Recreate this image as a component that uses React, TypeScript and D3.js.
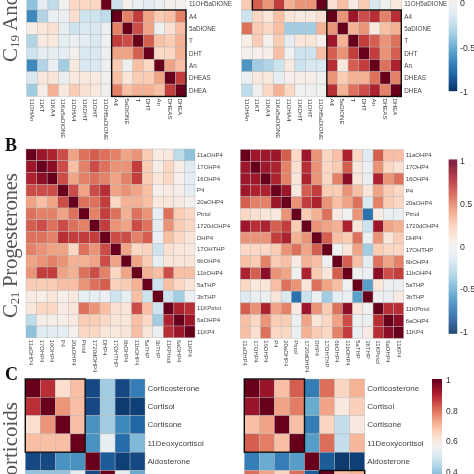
import React from "react";
import * as d3 from "d3";

const labelsA = ["11OHAn","11KT","11KA4","11Ka5aDIONE","11OHA4","11KDHT","11OHT","11OH5aDIONE","A4","5aDIONE","T","DHT","An","DHEAS","DHEA"];
const rowsA = labelsA.slice(7);
const labelsB = ["11aOHP4","17OHP4","16OHP4","P4","20aOHP4","Ptriol","1720dOHP4","DHP4","17OHTHP","6bOHP4","11bOHP4","5aTHP","3bTHP","11KPtriol","6aOHP4","11KP4"];
const labelsC = ["Corticosterone","Cortisol","Cortisone","11Deoxycortisol","Aldosterone",""];

const valuesAL = [
[-.4,-.1,-.25,-.02,.2,.2,.2,1,-.2,.02,-.05,-.1,-.05,.02,.02],
[-.65,-.3,-.05,-.05,.15,-.2,-.2,-.25,1,.5,.7,.4,.25,.3,.5],
[.05,.12,.15,-.08,-.2,-.15,-.15,-.05,.5,1,.65,.4,-.03,.15,.3],
[-.3,.08,.1,-.1,-.05,-.1,-.15,-.03,.7,.65,1,.6,.3,.25,.35],
[-.2,-.1,-.08,-.1,.02,-.15,-.15,-.03,.4,.4,.6,1,.2,.2,.35],
[-.65,-.3,-.05,-.35,.1,-.15,-.15,-.03,.25,-.03,.3,.2,1,.4,.3],
[-.15,.1,.12,-.05,.1,.1,.08,-.02,.3,.12,.25,.25,.4,1,.7],
[-.35,.05,.35,.1,.25,.15,.1,-.03,.5,.3,.35,.35,.3,.7,1],
];
const valuesAR = [
[.25,.6,.45,.7,.35,.45,.45,1,.15,.3,.08,.25,-.15,-.02,.1],
[-.2,.2,.12,.3,.12,.08,.1,.15,1,.45,.85,.65,.75,.5,.75],
[.55,.25,.2,.3,-.35,-.35,-.35,.35,.45,1,.35,.45,.1,.3,.35],
[.05,.25,.02,.25,-.1,.12,.12,.03,.85,.35,1,.7,.6,.45,.55],
[.02,.03,.05,.3,-.02,-.2,-.2,.3,.6,.45,.7,1,.7,.45,.6],
[-.6,-.35,-.3,-.2,.1,-.2,-.15,-.15,.75,.1,.6,.7,1,.55,.8],
[-.05,.1,.1,-.08,.03,.05,.05,-.03,.45,.25,.35,.35,.55,1,.5],
[-.25,-.03,.2,.35,.2,-.02,-.03,-.02,.75,.35,.55,.65,.8,.5,1],
];
const valuesBL = [
[1,.85,.8,.65,.4,.55,.6,.55,.5,.4,.45,.25,.08,.1,-.25,-.4],
[.85,1,.9,.65,.3,.5,.65,.55,.45,.45,.7,.25,.05,.2,.05,-.12],
[.8,.9,1,.65,.4,.5,.55,.5,.4,.5,.7,.25,.12,.2,.03,-.1],
[.65,.65,.65,1,.65,.4,.65,.75,.4,.45,.4,.3,.03,.08,.05,-.1],
[.4,.3,.4,.65,1,.55,.55,.7,.2,.35,.35,.3,.1,.12,.08,.02],
[.55,.5,.5,.4,.55,1,.5,.7,.55,.35,.55,.45,-.08,.55,.25,.2],
[.6,.65,.55,.65,.55,.5,1,.7,.45,.4,.65,.55,-.08,.45,.25,.2],
[.55,.55,.5,.75,.7,.7,.7,1,.65,.65,.5,.6,-.05,.3,.2,.12],
[.5,.45,.4,.4,.2,.55,.45,.65,1,.4,.2,.22,-.2,.15,.12,.1],
[.4,.45,.5,.45,.35,.35,.4,.65,.4,1,.4,.25,-.08,.12,.12,.12],
[.45,.7,.7,.4,.35,.55,.65,.5,.2,.4,1,.35,.3,.65,.3,.3],
[.25,.25,.25,.3,.3,.45,.55,.6,.22,.25,.35,1,-.2,.3,.2,.12],
[.08,.05,.12,.03,.1,-.08,-.08,-.05,-.2,-.08,.3,-.2,1,-.2,-.35,-.05],
[.1,.2,.2,.08,.12,.55,.45,.3,.15,.12,.65,.3,-.2,1,.8,.75],
[-.25,.05,.03,.05,.08,.25,.25,.2,.12,.12,.3,.2,-.35,.8,1,.85],
[-.4,-.12,-.1,-.1,.02,.2,.2,.12,.1,.12,.3,.12,-.05,.75,.85,1],
];
const valuesBR = [
[1,.85,.85,.85,.6,.2,.85,.45,.2,.3,.8,.2,-.12,.6,.3,.3],
[.85,1,.85,.8,.5,.15,.75,.45,.2,.25,.6,.1,-.05,.45,.2,.15],
[.85,.85,1,.8,.5,.12,.8,.45,.2,.5,.9,.12,-.05,.8,.45,.55],
[.85,.8,.8,1,.85,.1,.6,.7,.25,.25,.45,.3,.12,.4,.25,.2],
[.6,.5,.5,.85,1,.45,.7,.8,.45,.3,.4,.55,-.15,.5,.25,.2],
[.2,.15,.12,.1,.45,1,.25,.35,.55,.08,-.02,.45,-.75,.08,-.05,-.05],
[.85,.75,.8,.6,.7,.25,1,.45,.4,.35,.8,.12,-.2,.85,.4,.35],
[.45,.45,.45,.7,.8,.35,.45,1,.6,.3,.25,.55,-.05,.45,.12,.25],
[.2,.2,.2,.25,.45,.55,.4,.6,1,-.03,.12,.4,-.35,.25,.2,.2],
[.3,.25,.5,.25,.3,.08,.35,.3,-.03,1,.6,.3,-.1,.55,.4,.5],
[.8,.6,.9,.45,.4,-.02,.8,.25,.12,.6,1,-.02,-.05,.9,.65,.7],
[.2,.1,.12,.3,.55,.45,.12,.55,.4,.3,-.02,1,-.55,.12,-.03,-.05],
[-.12,-.05,-.05,.12,-.15,-.75,-.2,-.05,-.35,-.1,-.05,-.55,1,-.03,-.05,.08],
[.6,.45,.8,.4,.5,.08,.85,.45,.25,.55,.9,.12,-.03,1,.75,.75],
[.3,.2,.45,.25,.25,-.05,.4,.12,.2,.4,.65,-.03,-.05,.75,1,.9],
[.3,.15,.55,.2,.2,-.05,.35,.25,.2,.5,.7,-.05,.08,.75,.9,1],
];
const valuesCL = [
[1,.89,.64,.7,.18,.42,.18,.27],
[.89,1,.76,.7,.18,.42,.157,.165],
[.64,.76,1,.7,.31,.42,.29,.23],
[.7,.7,.7,1,.31,.54,.24,.38],
[.18,.18,.31,.31,1,.21,.165,.18],
[.4,.4,.4,.54,.18,1,.54,.355],
];
const valuesCR = [
[1,.94,.7,.83,.27,.81,.66,.72],
[.94,1,.74,.79,.355,.74,.61,.67],
[.7,.74,1,.7,.27,.66,.47,.61],
[.83,.79,.7,1,.33,.81,.47,.71],
[.27,.355,.27,.33,1,.21,.157,.165],
[.81,.74,.66,.81,.21,1,.7,.72],
];
const ticksAB = [-1,-0.5,0,0.5,1];
const ticksC = [0.4,0.6,0.8,1];
const minC = 0.14;

const corr = (v:number)=>d3.interpolateRdBu(1-(v+1)/2);
const tC = d3.scaleLinear().domain([minC,1]).range([1,0]).clamp(true);
const corrC = (v:number)=>d3.interpolateRdBu(tC(v));
const sans = "'Liberation Sans', Arial, sans-serif";
const serif = "'Liberation Serif', serif";

function Heat({values,x0,x1,y0,rowH,nRows,color,rowLabels,colLabels,fs,labelFs,labelGap,boxes}:any){
  const nCols = values[0].length;
  const xs = d3.scaleBand<number>().domain(d3.range(nCols)).range([x0,x1]);
  const ys = d3.scaleBand<number>().domain(d3.range(nRows)).range([y0,y0+rowH*nRows]);
  const bw = xs.bandwidth(), bh = ys.bandwidth();
  return <g>
    {values.map((r:number[],i:number)=>r.map((v,j)=>
      <rect key={i+"-"+j} x={xs(j)} y={ys(i)} width={bw} height={bh} fill={color(v)} stroke="#b5b5b5" strokeWidth={0.4}/>
    ))}
    {boxes.map((b:number[],k:number)=>
      <rect key={k} x={x0+bw*b[0]} y={y0+bh*b[1]} width={bw*(b[2]-b[0])} height={bh*(b[3]-b[1])} fill="none" stroke="#111" strokeWidth={1.4}/>
    )}
    {rowLabels.map((l:string,i:number)=>
      <text key={l+i} x={x1+labelGap} y={ys(i)!+bh/2} dominantBaseline="central" fontFamily={sans} fontSize={labelFs} fill="#444">{l}</text>
    )}
    {colLabels && colLabels.map((l:string,j:number)=>
      <text key={l+j} transform={`translate(${xs(j)!+bw/2},${y0+rowH*nRows+2}) rotate(90)`} dominantBaseline="central" fontFamily={sans} fontSize={fs} fill="#444">{l}</text>
    )}
  </g>;
}

function Bar({x,w,y0,y1,scale,ticks,color,fmtX,fs}:any){
  const steps = d3.range(0,Math.ceil(Math.abs(y1-y0)));
  return <g>
    {steps.map(i=>{
      const y = y0+i;
      return <rect key={i} x={x} y={y} width={w} height={1.2} fill={color(Math.max(-1,Math.min(1,scale.invert(y))))}/>;
    })}
    {ticks.map((t:number)=>
      <text key={t} x={fmtX} y={scale(t)} dominantBaseline="central" fontFamily={sans} fontSize={fs} fill="#333">{String(t)}</text>
    )}
  </g>;
}

export default function App(){
  const barA = d3.scaleLinear().domain([-1,1]).range([91.7,-85]);
  const barB = d3.scaleLinear().domain([-1,1]).range([332,161]);
  const barC = d3.scaleLinear().domain([0.4,1]).range([472,380]);
  return <svg width={474} height={474} style={{position:"absolute",left:0,top:0}}>
    <defs><filter id="soft" x="0" y="0" width="100%" height="100%"><feGaussianBlur stdDeviation="0.5"/></filter></defs>
    <rect width={474} height={474} fill="#fff"/>
    <g filter="url(#soft)">
      <Heat values={valuesAL} x0={26.7} x1={186} y0={-2.35} rowH={12.35} nRows={8} color={corr} rowLabels={rowsA} colLabels={labelsA} fs={6.1} labelFs={6.3} labelGap={3} boxes={[[8,1,15,8]]}/>
      <Heat values={valuesAR} x0={241.7} x1={401.3} y0={-2.35} rowH={12.35} nRows={8} color={corr} rowLabels={rowsA} colLabels={labelsA} fs={6.1} labelFs={6.3} labelGap={3} boxes={[[1,-7,8,1],[8,1,15,8]]}/>
      <Heat values={valuesBL} x0={26} x1={195} y0={149} rowH={11.8} nRows={16} color={corr} rowLabels={labelsB} colLabels={labelsB} fs={5.9} labelFs={6} labelGap={2} boxes={[]}/>
      <Heat values={valuesBR} x0={240.3} x1={403.7} y0={149.5} rowH={11.8} nRows={16} color={corr} rowLabels={labelsB} colLabels={labelsB} fs={5.9} labelFs={6} labelGap={2} boxes={[]}/>
      <Heat values={valuesCL} x0={25.3} x1={145} y0={379} rowH={18.3} nRows={6} color={corrC} rowLabels={labelsC} fs={8} labelFs={8} labelGap={2.5} boxes={[[0,0,4,4]]}/>
      <Heat values={valuesCR} x0={244.3} x1={364.7} y0={379} rowH={18.3} nRows={6} color={corrC} rowLabels={labelsC} fs={8} labelFs={8} labelGap={2.5} boxes={[[0,0,4,4],[5,5,8,8]]}/>
      <Bar x={448.7} w={8.5} y0={-2} y1={91} scale={barA} ticks={ticksAB.slice(0,3)} color={corr} fmtX={460} fs={8.8}/>
      <Bar x={448.7} w={8.5} y0={159.5} y1={333} scale={barB} ticks={ticksAB} color={corr} fmtX={460} fs={8.8}/>
      <Bar x={432} w={10} y0={379} y1={476} scale={barC} ticks={ticksC} color={corrC} fmtX={446} fs={8.5}/>
      <text transform="translate(17,62) rotate(-90)" fontFamily={serif} fontSize={21} fill="#555">C<tspan fontSize={13} dy={2}>19</tspan><tspan dy={-2}> Androgens</tspan></text>
      <text transform="translate(17,318) rotate(-90)" fontFamily={serif} fontSize={21} fill="#555" textLength={145}>C<tspan fontSize={13} dy={2}>21</tspan><tspan dy={-2}> Progesterones</tspan></text>
      <text transform="translate(17,402) rotate(-90)" textAnchor="end" fontFamily={serif} fontSize={21} fill="#555">Corticoids</text>
      <text x={5} y={151} fontFamily={serif} fontWeight="bold" fontSize={18} fill="#111">B</text>
      <text x={5} y={380} fontFamily={serif} fontWeight="bold" fontSize={18} fill="#111">C</text>
    </g>
  </svg>;
}
